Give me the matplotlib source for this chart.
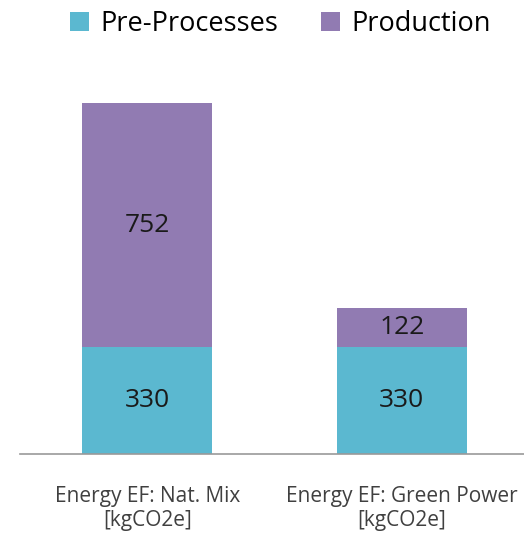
"""
Stacked bar: CO2 footprint by energy emission factor.
"""
import matplotlib.pyplot as plt
import numpy as np

categories = ['Energy EF: Nat. Mix\n[kgCO2e]', 'Energy EF: Green Power\n[kgCO2e]']
pre_processes = [330, 330]
production = [752, 122]
series_labels = ['Pre-Processes', 'Production']

plt.rcParams['font.family'] = ['Open Sans', 'DejaVu Sans']

fig = plt.figure(figsize=(5.24, 5.33), dpi=100)
ax = fig.add_axes([0.038, 0.148, 0.962, 0.73])

x = np.arange(len(categories))
width = 0.51
c_pre = '#5bb8d0'
c_prod = '#917bb2'

b1 = ax.bar(x, pre_processes, width, color=c_pre, label=series_labels[0])
b2 = ax.bar(x, production, width, bottom=pre_processes, color=c_prod, label=series_labels[1])

for i in range(len(x)):
    ax.text(x[i], pre_processes[i] / 2, str(pre_processes[i]), ha='center', va='center',
            fontsize=19, color='#1a1a1a')
    ax.text(x[i], pre_processes[i] + production[i] / 2, str(production[i]), ha='center',
            va='center', fontsize=19, color='#1a1a1a')

ax.set_xlim(-0.5, 1.48)
ax.set_ylim(0, 1200)
ax.set_xticks(x)
ax.set_xticklabels(categories, fontsize=15, color='#404040', linespacing=1.2)
ax.tick_params(axis='x', length=0, pad=23)
ax.set_yticks([])
for s in ['top', 'right', 'left']:
    ax.spines[s].set_visible(False)
ax.spines['bottom'].set_color('#999999')
ax.spines['bottom'].set_linewidth(1.2)

fig.legend(handles=[b1, b2], labels=series_labels, loc='upper center',
           bbox_to_anchor=(0.535, 1.027), ncol=2, frameon=False, fontsize=19.5,
           handlelength=0.7, handleheight=0.7, handletextpad=0.4, columnspacing=1.6)

plt.savefig('out.png', dpi=100, facecolor='w')
